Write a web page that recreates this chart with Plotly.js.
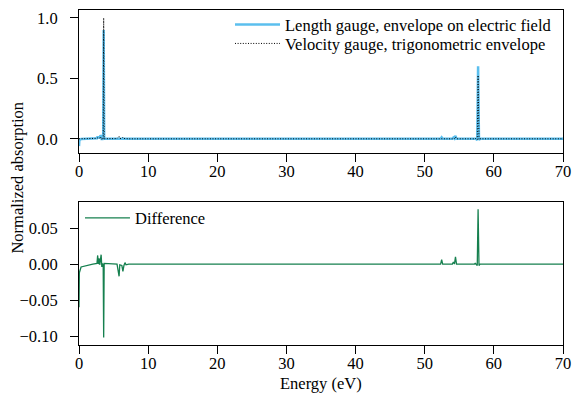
<!DOCTYPE html>
<html>
<head>
<meta charset="utf-8">
<script src="https://cdn.plot.ly/plotly-3.0.1.min.js"></script>
<style>html,body{margin:0;padding:0;background:#fff;}#chart{width:573px;height:403px;}</style>
</head>
<body>
<div id="chart"></div>
<script>
const energy = [0, 0.05, 0.3, 1.0, 2.0, 2.6, 2.7, 2.8, 2.9, 3.0, 3.1, 3.2, 3.3, 3.4, 3.5, 3.57, 3.64, 3.8, 4.5, 5.5, 5.8, 5.9, 6.2, 6.35, 6.5, 6.65, 6.8, 7.2, 52.3, 52.45, 52.6, 54.0, 54.15, 54.3, 54.45, 54.6, 57.2, 57.3, 57.4, 57.6, 57.72, 57.85, 58.0, 60.2, 60.3, 60.4, 70];
const lengthGauge = [-0.06, -0.01, -0.002, 0.0, 0.003, 0.005, 0.02, 0.006, 0.015, 0.004, 0.03, 0.02, -0.01, 0.01, 0.0, 0.90, 0.0, 0.002, 0.001, 0.002, 0.003, 0.001, 0.002, 0.003, 0.001, 0.006, 0.001, 0.0, 0.0, 0.012, 0.0, 0.0, 0.01, 0.002, 0.025, 0.0, 0.0, 0.005, 0.0, -0.01, 0.60, -0.01, 0.0, 0.0, 0.002, 0.0, 0.0];
const velocityGauge = [0.0, 0.0, 0.0, 0.0, 0.002, 0.004, 0.008, 0.006, 0.007, 0.005, 0.018, 0.007, -0.006, 0.009, 0.002, 1.0, 0.0, 0.001, 0.001, 0.002, 0.02, 0.002, 0.004, 0.013, 0.003, 0.004, 0.002, 0.0, 0.0, 0.006, 0.0, 0.0, 0.007, 0.002, 0.015, 0.0, 0.0, 0.004, 0.0, -0.008, 0.525, -0.008, 0.0, 0.0, 0.001, 0.0, 0.0];
const difference = [-0.06, -0.012, -0.004, -0.002, 0.0, 0.001, 0.012, 0.0, 0.008, -0.001, 0.012, 0.013, -0.004, 0.001, -0.002, -0.102, 0.001, 0.001, 0.0, 0.0, -0.017, -0.001, -0.002, -0.01, -0.002, 0.002, -0.001, 0.0, 0.0, 0.006, 0.0, 0.0, 0.003, 0.0, 0.010, 0.0, 0.0, 0.001, 0.0, -0.002, 0.076, -0.002, 0.0, 0.0, 0.001, 0.0, 0.0];
const xTicks = [0, 10, 20, 30, 40, 50, 60, 70];
const topTicks = [0.0, 0.5, 1.0];
const bottomTicks = [-0.10, -0.05, 0.00, 0.05];

const FONT = 'Liberation Serif, Times New Roman, serif';
const FS = 16.5;
const traces = [
  {x: energy, y: lengthGauge, type: 'scatter', mode: 'lines', name: 'Length gauge, envelope on electric field',
   line: {color: '#5bbfee', width: 2.5}, xaxis: 'x', yaxis: 'y', legend: 'legend'},
  {x: energy, y: velocityGauge, type: 'scatter', mode: 'lines', name: 'Velocity gauge, trigonometric envelope',
   line: {color: '#000000', width: 1, dash: '1px,1.6px'}, xaxis: 'x', yaxis: 'y', legend: 'legend3'},
  {x: energy, y: difference, type: 'scatter', mode: 'lines', name: 'Difference',
   line: {color: '#16804f', width: 1.3}, xaxis: 'x2', yaxis: 'y2', legend: 'legend2'}
];

const axisCommon = {
  showline: true, mirror: true, linecolor: '#000', linewidth: 1,
  ticks: 'outside', ticklen: 8, tickwidth: 1, tickcolor: '#000',
  showgrid: false, zeroline: false,
  tickfont: {family: FONT, size: FS, color: '#000'}
};
const xAxisCommon = Object.assign({}, axisCommon, {ticklabelstandoff: -5});
const yAxisCommon = Object.assign({}, axisCommon, {ticklabelstandoff: 9});

const legendCommon = {xanchor: 'left', yanchor: 'middle', bgcolor: 'rgba(255,255,255,0)', borderwidth: 0,
  itemwidth: 45, font: {family: FONT, size: FS, color: '#000'}};

const layout = {
  width: 573, height: 403,
  margin: {l: 79, r: 10, t: 7, b: 58},
  paper_bgcolor: '#fff', plot_bgcolor: '#fff',
  font: {family: FONT, size: FS, color: '#000'},
  xaxis: Object.assign({}, xAxisCommon, {domain: [0, 1], range: [0, 70], tickvals: xTicks, anchor: 'y'}),
  yaxis: Object.assign({}, yAxisCommon, {domain: [0.574, 1], range: [-0.115, 1.066], tickvals: topTicks, tickformat: '.1f', anchor: 'x'}),
  xaxis2: Object.assign({}, xAxisCommon, {domain: [0, 1], range: [0, 70], tickvals: xTicks, anchor: 'y2'}),
  yaxis2: Object.assign({}, yAxisCommon, {domain: [0, 0.426], range: [-0.1124, 0.0858], tickvals: bottomTicks, tickformat: '.2f', anchor: 'x2'}),
  showlegend: true,
  legend: Object.assign({}, legendCommon, {x: 0.312, y: 0.9556}),
  legend3: Object.assign({}, legendCommon, {x: 0.312, y: 0.8994}),
  legend2: Object.assign({}, legendCommon, {x: 0.002, y: 0.3787}),
  annotations: [
    {text: 'Normalized absorption', xref: 'paper', yref: 'paper', x: -0.128, y: 0.5, xanchor: 'center', yanchor: 'middle',
     textangle: -90, showarrow: false, font: {family: FONT, size: FS, color: '#000'}},
    {text: 'Energy (eV)', xref: 'paper', yref: 'paper', x: 0.5, y: -0.115, xanchor: 'center', yanchor: 'middle',
     showarrow: false, font: {family: FONT, size: FS, color: '#000'}}
  ]
};

Plotly.newPlot('chart', traces, layout, {displayModeBar: false, staticPlot: true});
</script>
</body>
</html>
